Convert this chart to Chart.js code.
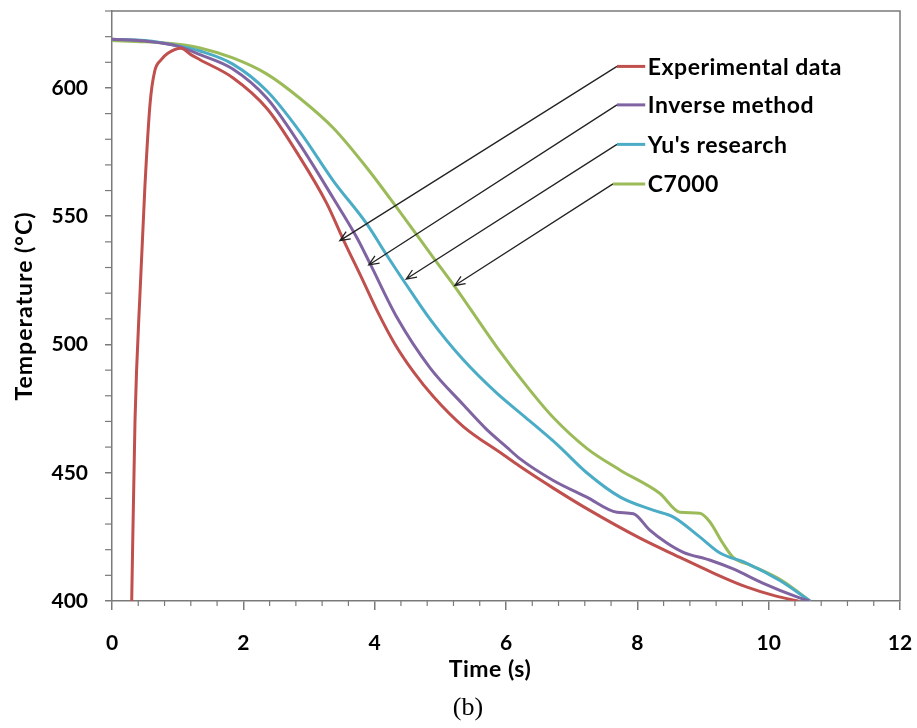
<!DOCTYPE html>
<html>
<head>
<meta charset="utf-8">
<script src="https://cdn.jsdelivr.net/npm/chart.js@4.4.0/dist/chart.umd.min.js"></script>
<style>
  html, body { margin: 0; padding: 0; background: #fff; }
  #wrap { width: 917px; height: 728px; }
</style>
</head>
<body>
<div id="wrap"><canvas id="grafico" width="917" height="728"></canvas></div>
<script>
// series names and colours
const seriesNames = ['Experimental data', 'Inverse method', "Yu's research", 'C7000'];
const seriesColors = ['#C0504D', '#8064A2', '#4BACC6', '#9BBB59'];

// Experimental data
const expTime = [0.30, 0.35, 0.43, 0.50, 0.58, 0.65, 0.75, 0.85, 1.05, 1.20, 1.34, 1.84, 2.36, 2.86, 3.27, 3.52, 3.82, 4.05, 4.30, 4.60, 4.90, 5.35, 5.96, 6.21, 6.72, 7.23, 8.04, 8.65, 9.15, 9.66, 10.10, 10.45];
const expTemp = [400, 470, 522, 561, 594, 606.5, 611, 613.5, 615.5, 613, 611, 604, 592, 573, 555, 541, 525, 512.5, 500.5, 489, 479.5, 468, 457, 452.5, 444, 436, 424.5, 417, 411, 405.5, 402, 400];

// Inverse method
const invTime = [0, 0.5, 1.0, 1.34, 1.84, 2.36, 2.86, 3.37, 3.73, 3.93, 4.34, 4.84, 5.35, 5.70, 6.01, 6.21, 6.72, 7.23, 7.69, 7.94, 8.19, 8.45, 8.70, 9.10, 9.46, 9.91, 10.43, 10.62];
const invTemp = [619, 618.3, 616.3, 613, 607.4, 596, 578, 557, 541.6, 531.5, 510.5, 491, 476.5, 467, 460, 455.5, 447, 440.5, 434.6, 434, 427.6, 422.6, 419, 416, 412.5, 407, 401.6, 400];

// Yu's research
const yuTime = [0, 0.5, 1.0, 1.34, 1.84, 2.36, 2.86, 3.37, 3.88, 4.18, 4.49, 4.84, 5.35, 5.86, 6.30, 6.80, 7.23, 7.74, 8.24, 8.55, 8.95, 9.26, 9.66, 10.17, 10.63];
const yuTemp = [619, 618.5, 616.5, 614.4, 609.3, 598.8, 583, 563.8, 547, 535, 523, 510, 494, 481, 471.5, 460.5, 450, 440.5, 435.4, 432.7, 425, 418.7, 414.8, 408, 400];

// C7000
const c7Time = [0, 0.5, 1.0, 1.34, 1.84, 2.36, 2.86, 3.37, 3.88, 4.39, 4.89, 5.25, 5.86, 6.37, 6.72, 7.23, 7.74, 8.34, 8.65, 8.95, 9.10, 9.30, 9.46, 9.72, 10.20, 10.63];
const c7Temp = [618.5, 618, 617, 615.6, 611.7, 605.4, 596, 584.4, 568.9, 551.5, 534, 521.5, 499, 482, 471.5, 459.5, 451, 442, 434.6, 434.2, 431, 422.6, 417, 414, 408, 400];

// axis ticks
const xTicks = [0, 2, 4, 6, 8, 10, 12];
const yTicks = [400, 450, 500, 550, 600];

const toPoints = (ts, vs) => ts.map((t, i) => ({ x: t, y: vs[i] }));

// legend labels with arrows (data coordinates)
const notes = [
  { start: [7.69, 608.4], tip: [3.47, 540.5] },
  { start: [7.69, 593.4], tip: [3.91, 531] },
  { start: [7.69, 578.0], tip: [4.48, 525.5] },
  { start: [7.63, 562.6], tip: [5.22, 523] }
];

const fontTicks = { family: 'Lato', size: 21, weight: 'bold' };

const extras = {
  id: 'extras',
  afterDraw(chart) {
    const { ctx, chartArea: a, scales: { x, y } } = chart;
    ctx.save();
    // frame top and right
    ctx.strokeStyle = '#7a7a7a';
    ctx.lineWidth = 1.5;
    ctx.beginPath();
    ctx.moveTo(a.left, a.top);
    ctx.lineTo(a.right, a.top);
    ctx.lineTo(a.right, a.bottom);
    ctx.stroke();

    // minor ticks
    ctx.lineWidth = 1.2;
    for (let i = 1; i < 30; i++) {
      if (i % 5 === 0) continue;
      const px = x.getPixelForValue(i * 0.4);
      ctx.beginPath();
      ctx.moveTo(px, a.bottom);
      ctx.lineTo(px, a.bottom + 5);
      ctx.stroke();
    }
    for (let v = 410; v <= 630; v += 10) {
      if (v % 50 === 0) continue;
      const py = y.getPixelForValue(v);
      ctx.beginPath();
      ctx.moveTo(a.left - 7, py);
      ctx.lineTo(a.left, py);
      ctx.stroke();
    }

    // legend with arrows
    notes.forEach((n, i) => {
      const sx = x.getPixelForValue(n.start[0]);
      const sy = y.getPixelForValue(n.start[1]);
      const tx = x.getPixelForValue(n.tip[0]);
      const ty = y.getPixelForValue(n.tip[1]);
      ctx.strokeStyle = '#222';
      ctx.lineWidth = 1.3;
      ctx.beginPath();
      ctx.moveTo(sx, sy);
      ctx.lineTo(tx, ty);
      const ang = Math.atan2(sy - ty, sx - tx);
      ctx.moveTo(tx + 11 * Math.cos(ang + 0.4), ty + 11 * Math.sin(ang + 0.4));
      ctx.lineTo(tx, ty);
      ctx.lineTo(tx + 11 * Math.cos(ang - 0.4), ty + 11 * Math.sin(ang - 0.4));
      ctx.stroke();

      ctx.strokeStyle = seriesColors[i];
      ctx.lineWidth = 3;
      ctx.beginPath();
      ctx.moveTo(sx, sy);
      ctx.lineTo(x.getPixelForValue(8.12), sy);
      ctx.stroke();

      ctx.fillStyle = '#000';
      ctx.font = 'bold 23px Lato';
      ctx.letterSpacing = '0.5px';
      ctx.textAlign = 'left';
      ctx.textBaseline = 'middle';
      ctx.fillText(seriesNames[i], x.getPixelForValue(8.16), sy + 1);
    });

    // axis titles and caption
    ctx.fillStyle = '#000';
    ctx.textAlign = 'center';
    ctx.textBaseline = 'middle';
    ctx.font = 'bold 23px Lato';
    ctx.letterSpacing = '0.5px';
    ctx.fillText('Time (s)', 490, 670);
    ctx.save();
    ctx.letterSpacing = '1px';
    ctx.translate(25, (a.top + a.bottom) / 2);
    ctx.rotate(-Math.PI / 2);
    ctx.fillText('Temperature (\u00B0C)', 0, 0);
    ctx.restore();
    ctx.letterSpacing = '0px';
    ctx.font = '26px "Liberation Serif"';
    ctx.fillText('(b)', 468, 708);
    ctx.restore();
  }
};

new Chart(document.getElementById('grafico'), {
  type: 'line',
  data: {
    datasets: [
      { label: seriesNames[0], data: toPoints(expTime, expTemp), borderColor: seriesColors[0] },
      { label: seriesNames[1], data: toPoints(invTime, invTemp), borderColor: seriesColors[1] },
      { label: seriesNames[2], data: toPoints(yuTime, yuTemp), borderColor: seriesColors[2] },
      { label: seriesNames[3], data: toPoints(c7Time, c7Temp), borderColor: seriesColors[3] }
    ]
  },
  options: {
    responsive: false,
    animation: false,
    layout: { padding: { top: 11, right: 17, left: 0, bottom: 0 } },
    elements: {
      point: { radius: 0 },
      line: { borderWidth: 3, cubicInterpolationMode: 'monotone', fill: false }
    },
    plugins: { legend: { display: false }, tooltip: { enabled: false } },
    scales: {
      x: {
        type: 'linear', min: 0, max: 12,
        afterBuildTicks: s => { s.ticks = xTicks.map(v => ({ value: v })); },
        afterFit: s => { s.height = 127; s.paddingLeft = 0; s.paddingRight = 0; },
        ticks: { font: fontTicks, color: '#000', padding: 21, maxRotation: 0 },
        grid: { drawOnChartArea: false, tickLength: 9, color: '#7a7a7a', lineWidth: 1.5 },
        border: { color: '#7a7a7a', width: 1.5 }
      },
      y: {
        type: 'linear', min: 400, max: 630,
        afterBuildTicks: s => { s.ticks = yTicks.map(v => ({ value: v })); },
        afterFit: s => { s.width = 112; s.paddingTop = 0; s.paddingBottom = 0; },
        ticks: { font: fontTicks, color: '#000', padding: 17 },
        grid: { drawOnChartArea: false, tickLength: 7, color: '#7a7a7a', lineWidth: 1.5 },
        border: { color: '#7a7a7a', width: 1.5 }
      }
    }
  },
  plugins: [extras]
});
</script>
</body>
</html>
